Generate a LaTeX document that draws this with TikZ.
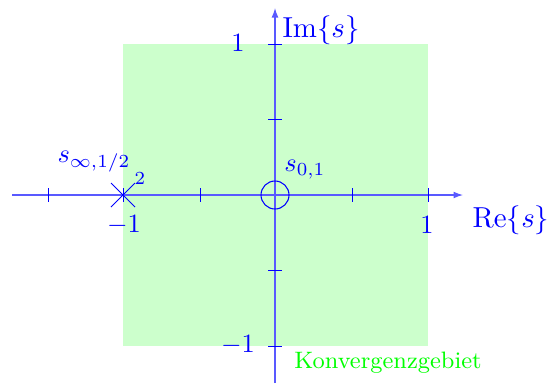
\documentclass[tikz,border=0pt]{standalone}
\usetikzlibrary{arrows.meta,calc}
\begin{document}
\begin{tikzpicture}[x=0.3788pt,y=-0.3788pt,
  axis/.style={blue!65,line width=0.45pt,-{Latex[length=3.6pt,width=2.6pt]}},
  tick/.style={blue,line width=0.3pt},
  lbl/.style={blue,inner sep=0pt},
  big/.style={lbl,font=\fontsize{10.95}{13}\selectfont},
  pole/.style={blue,line width=0.3pt}]
\useasboundingbox (0,0) rectangle (550,383);
\fill[green!20] (123,44) rectangle (428,346);
% axes
\coordinate (xs) at (12,195); \coordinate (xe) at (463,195);
\coordinate (ys) at (275,383); \coordinate (ye) at (275,8);
\draw[axis] (xs) -- (xe);
\draw[axis] (ys) -- (ye);
% ticks
\foreach \x in {48,123,200,352,428} \draw[tick] (\x,188) -- (\x,202);
\foreach \y in {44,119,270,346} \draw[tick] (268,\y) -- (282,\y);
% tick labels
\node[lbl] (xm1) at (124,225) {$-1$};
\node[lbl] (xp1) at (427,225) {$1$};
\node[lbl] (yp1) at (238,43) {$1$};
\node[lbl] (ym1) at (238,345) {$-1$};
% axis labels
\node[big] (re) at (511,220) {$\mathrm{Re}\{s\}$};
\node[big] (im) at (321,30) {$\mathrm{Im}\{s\}$};
% pole
\coordinate (p) at (123,195);
\draw[pole] ($(p)+(-12,-12)$) -- ($(p)+(12,12)$);
\draw[pole] ($(p)+(-12,12)$) -- ($(p)+(12,-12)$);
\node[lbl,font=\scriptsize] (two) at (140,179) {$2$};
\node[lbl] (sinf) at (94,162) {$s_{\infty,1/2}$};
% zero
\node[blue,line width=0.4pt,draw,circle,minimum size=28*0.3788pt,inner sep=0pt] (z) at (275,195) {};
\node[lbl] (s0) at (305,170) {$s_{0,1}$};
% region label
\node[inner sep=0pt,text=green,font=\small] (kg) at (388,363) {Konvergenzgebiet};
\end{tikzpicture}
\end{document}
